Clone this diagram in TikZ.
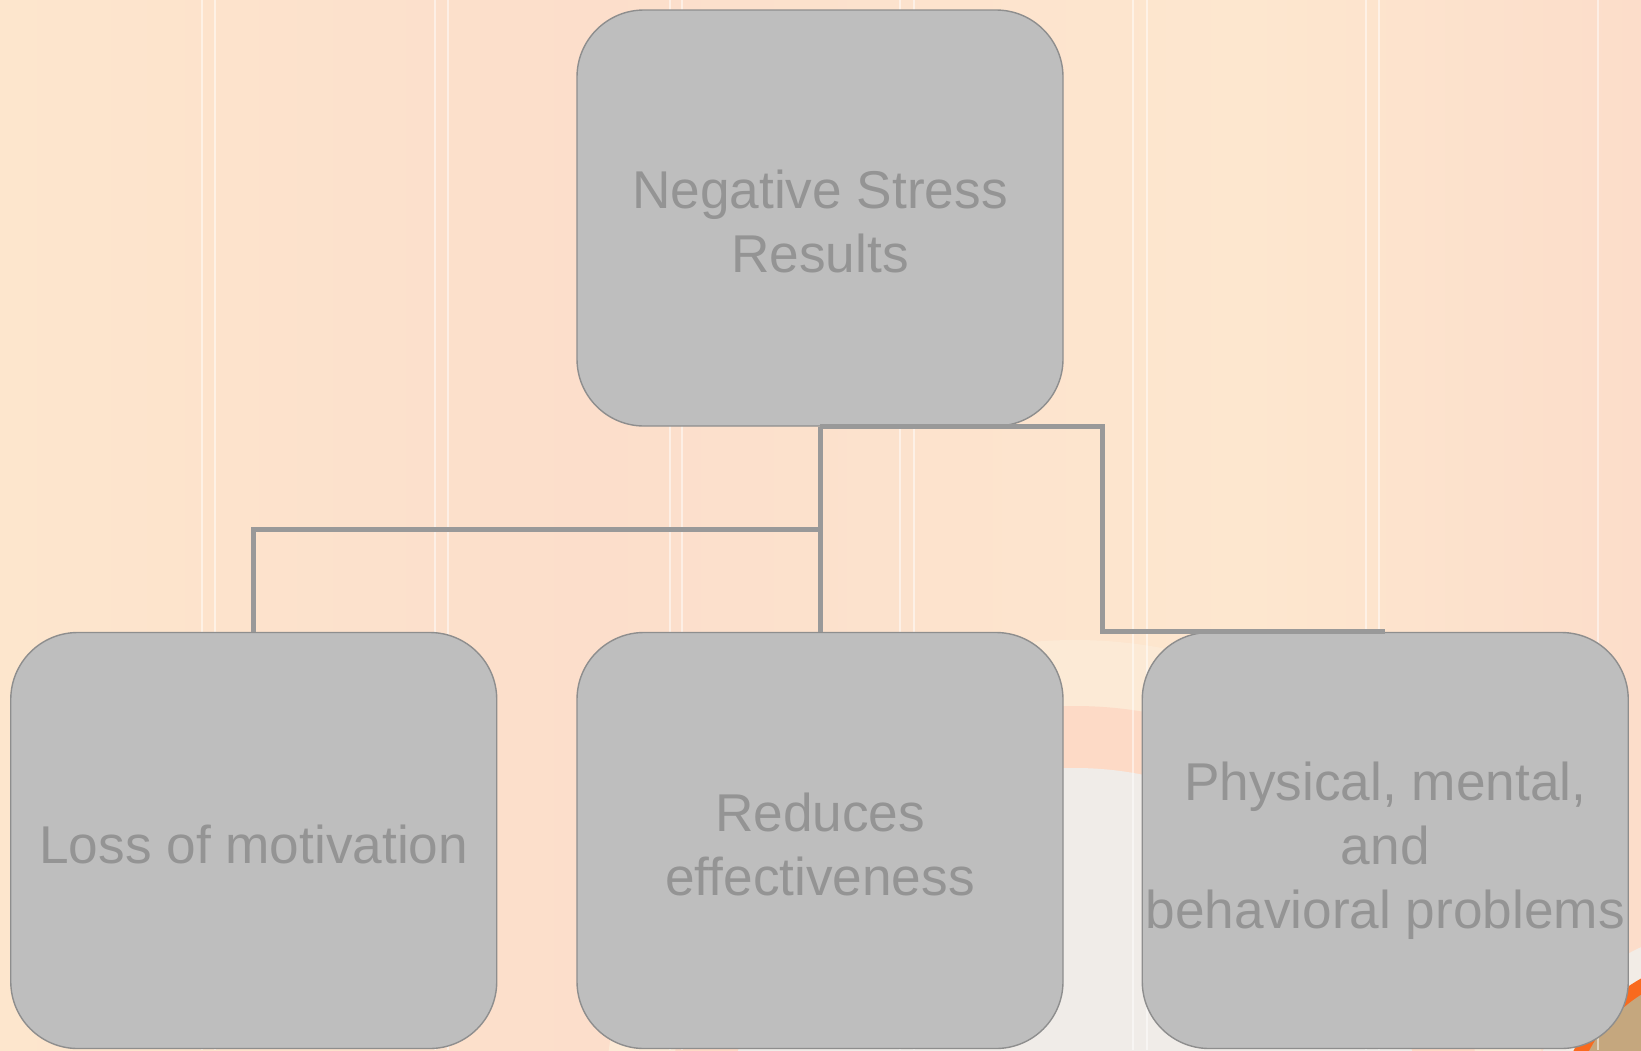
\documentclass[tikz,border=0pt]{standalone}
\usepackage{fontspec}
\setmainfont{Liberation Sans}
\usetikzlibrary{calc}
\definecolor{bgA}{HTML}{FDE6CD}
\definecolor{bgB}{HTML}{FCDECB}
\definecolor{bgC}{HTML}{FDE7CF}
\definecolor{bgD}{HTML}{FCDDCA}
\definecolor{boxfill}{HTML}{BEBEBE}
\definecolor{boxline}{HTML}{8E8E8E}
\definecolor{txtgray}{HTML}{949494}
\definecolor{conngray}{HTML}{999999}
\definecolor{ringsalmon}{HTML}{FDDAC6}
\definecolor{ringcream}{HTML}{FCEAD6}
\definecolor{lightcirc}{HTML}{F0ECE8}
\definecolor{decoorange}{HTML}{F96A1E}
\definecolor{decotan}{HTML}{C5A77E}
\definecolor{decolight}{HTML}{F2ECE6}
\pgfdeclarehorizontalshading{bgshade}{100bp}{color(0bp)=(bgA); color(25bp)=(bgA); color(43bp)=(bgB); color(63bp)=(bgC); color(75bp)=(bgD); color(100bp)=(bgD)}
\begin{document}
\begin{tikzpicture}[x=1pt,y=-1pt,
  box/.style={draw=boxline, line width=1.4pt, fill=boxfill, rounded corners=67pt,
    minimum width=486pt, minimum height=416pt, inner sep=0pt},
  boxtext/.style={inner sep=0pt, align=center, text=txtgray,
    font=\fontsize{53.2pt}{64pt}\selectfont},
  conn/.style={draw=conngray, line width=5pt},
  stripe/.style={draw=white, line width=1.5pt, opacity=0.5}]
\useasboundingbox (0,0) rectangle (1641,1050);
\shade[shading=bgshade] (0,0) rectangle (1641,1050);
% large faint circle (background)
\fill[ringcream] (1075,1110) circle[radius=470pt];
\fill[ringsalmon] (1075,1110) circle[radius=404pt];
\fill[lightcirc] (1075,1110) circle[radius=342pt];
% bottom-right decoration
\fill[decolight] (1720,1120) circle[radius=190pt];
\fill[decoorange] (1720,1120) circle[radius=162pt];
\fill[decotan] (1720,1120) circle[radius=148pt];
% vertical stripes
\foreach \x in {202,215,435,448,670,682,900,914,1133,1147,1366,1379,1598}
  \draw[stripe] (\x,0) -- (\x,1050);
% boxes
\node[box] (top) at (820,218) {};
\node[box] (left) at (253.75,840.5) {};
\node[box] (mid) at (820,840.5) {};
\node[box] (right) at (1385.25,840.5) {};
% connectors
\coordinate (mjoin) at ($(top.south)!0.5!(mid.north)$);
\coordinate (rbend) at ($(top.south)+(282,0)$);
\draw[conn] (top.south) -- (mid.north);
\draw[conn] (mjoin) -| (left.north);
\draw[conn] (top.south) -- (rbend) |- (right.north);
% texts
\node[boxtext, yshift=-3pt] (topT) at (top.center) {Negative Stress\\Results};
\node[boxtext, yshift=-4pt] (leftT) at (left.center) {Loss of motivation};
\node[boxtext, yshift=-4pt] (midT) at (mid.center) {Reduces\\effectiveness};
\node[boxtext, yshift=-10pt] (rightT) at (right.center) {Physical, mental,\\and\\behavioral problems};
\end{tikzpicture}
\end{document}
